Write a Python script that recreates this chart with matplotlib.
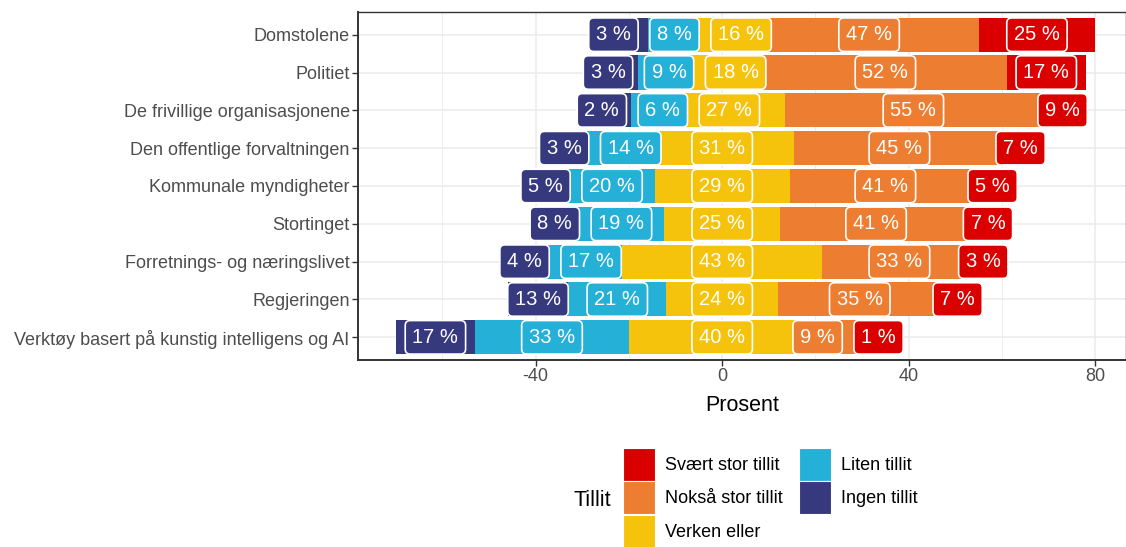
import numpy as np
import matplotlib
matplotlib.use('Agg')
import matplotlib.pyplot as plt
from matplotlib.patches import Patch
from matplotlib.ticker import FixedLocator

plt.rcParams['font.family'] = ['Liberation Sans', 'DejaVu Sans']

categories = ['Domstolene', 'Politiet', 'De frivillige organisasjonene',
              'Den offentlige forvaltningen', 'Kommunale myndigheter', 'Stortinget',
              'Forretnings- og næringslivet', 'Regjeringen',
              'Verktøy basert på kunstig intelligens og AI']

ingen = [3, 3, 2, 3, 5, 8, 4, 13, 17]
liten = [8, 9, 6, 14, 20, 19, 17, 21, 33]
verken = [16, 18, 27, 31, 29, 25, 43, 24, 40]
noksa = [47, 52, 55, 45, 41, 41, 33, 35, 9]
svaert = [25, 17, 9, 7, 5, 7, 3, 7, 1]

levels = ['Svært stor tillit', 'Nokså stor tillit', 'Verken eller', 'Liten tillit', 'Ingen tillit']
colors = ['#DA0000', '#ED7D31', '#F5C30C', '#25B0D8', '#37397F']
col = dict(zip(levels, colors))

xmin, xmax = -78.1, 86.6
W, H = 1126, 547

fig = plt.figure(figsize=(W / 100, H / 100), dpi=100)
ax = fig.add_axes([358 / W, 1 - 360 / H, 1 - 358 / W, (360 - 12) / H])

y = np.arange(len(categories))
ing = np.array(ingen, float)
lit = np.array(liten, float)
ver = np.array(verken, float)
nok = np.array(noksa, float)
sva = np.array(svaert, float)

# diverging stack, neutral split around zero
segs = [
    ('Ingen tillit', -(ver / 2 + lit + ing), ing),
    ('Liten tillit', -(ver / 2 + lit), lit),
    ('Verken eller', -ver / 2, ver),
    ('Nokså stor tillit', ver / 2, nok),
    ('Svært stor tillit', ver / 2 + nok, sva),
]
for name, left, width in segs:
    ax.barh(y, width, left=left, height=0.9, color=col[name], zorder=2)

# labels
fs = 14.5
pad = 0.36
texts = [[] for _ in categories]
for name, left, width in segs:
    for i in range(len(categories)):
        t = ax.text(left[i] + width[i] / 2, y[i], f'{int(width[i])} %', color='white',
                    fontsize=fs, ha='center', va='center', zorder=4,
                    bbox=dict(boxstyle=f'round,pad={pad},rounding_size=0.25',
                              fc=col[name], ec='white', lw=1.2))
        texts[i].append(t)

ax.set_xlim(xmin, xmax)
ax.set_ylim(len(categories) - 1 + 0.6, -0.6)

# simple repel: push labels in a row apart so boxes do not overlap
fig.canvas.draw()
renderer = fig.canvas.get_renderer()
px_per_unit = ax.bbox.width / (xmax - xmin)
pad_px = pad * fs * 100 / 72
gap = 2.5
for row in texts:
    xs = np.array([t.get_position()[0] for t in row])
    ws = np.array([(t.get_window_extent(renderer).width + 2 * pad_px) / px_per_unit for t in row])
    for _ in range(400):
        for j in range(len(xs) - 1):
            need = (ws[j] + ws[j + 1]) / 2 + gap
            d = xs[j + 1] - xs[j]
            if d < need:
                s = (need - d) / 2
                xs[j] -= s
                xs[j + 1] += s
    for t, x in zip(row, xs):
        t.set_x(x)

ax.set_yticks(y)
ax.set_yticklabels(categories)
ax.set_xticks([-40, 0, 40, 80])
ax.set_xticklabels(['-40', '0', '40', '80'])
ax.xaxis.set_minor_locator(FixedLocator([-60, -20, 20, 60]))
ax.set_axisbelow(True)
ax.grid(which='major', color='#EBEBEB', lw=1.1, zorder=0)
ax.grid(which='minor', axis='x', color='#EBEBEB', lw=0.6, zorder=0)
ax.tick_params(axis='both', which='major', length=4, width=1, color='#333333',
               labelsize=13, labelcolor='#4D4D4D', pad=2)
ax.tick_params(axis='both', which='minor', length=0)
for s in ax.spines.values():
    s.set_color('#333333')
    s.set_linewidth(1.0)
ax.spines['left'].set_linewidth(1.4)
ax.spines['bottom'].set_linewidth(1.4)
ax.set_xlabel('Prosent', fontsize=15.5, labelpad=7)

handles = [Patch(facecolor=col[l], edgecolor='white', lw=0.8) for l in levels]
fig.legend(handles, levels, ncol=2, loc='upper left',
           bbox_to_anchor=(623 / W, 1 - 448 / H), frameon=False, fontsize=13,
           handlelength=1.75, handleheight=2.4, handletextpad=0.55,
           labelspacing=0.05, columnspacing=0.93, borderpad=0, borderaxespad=0)
fig.text(573 / W, 1 - 500 / H, 'Tillit', fontsize=15.5, ha='left', va='center')

fig.savefig('out.png', dpi=100)
